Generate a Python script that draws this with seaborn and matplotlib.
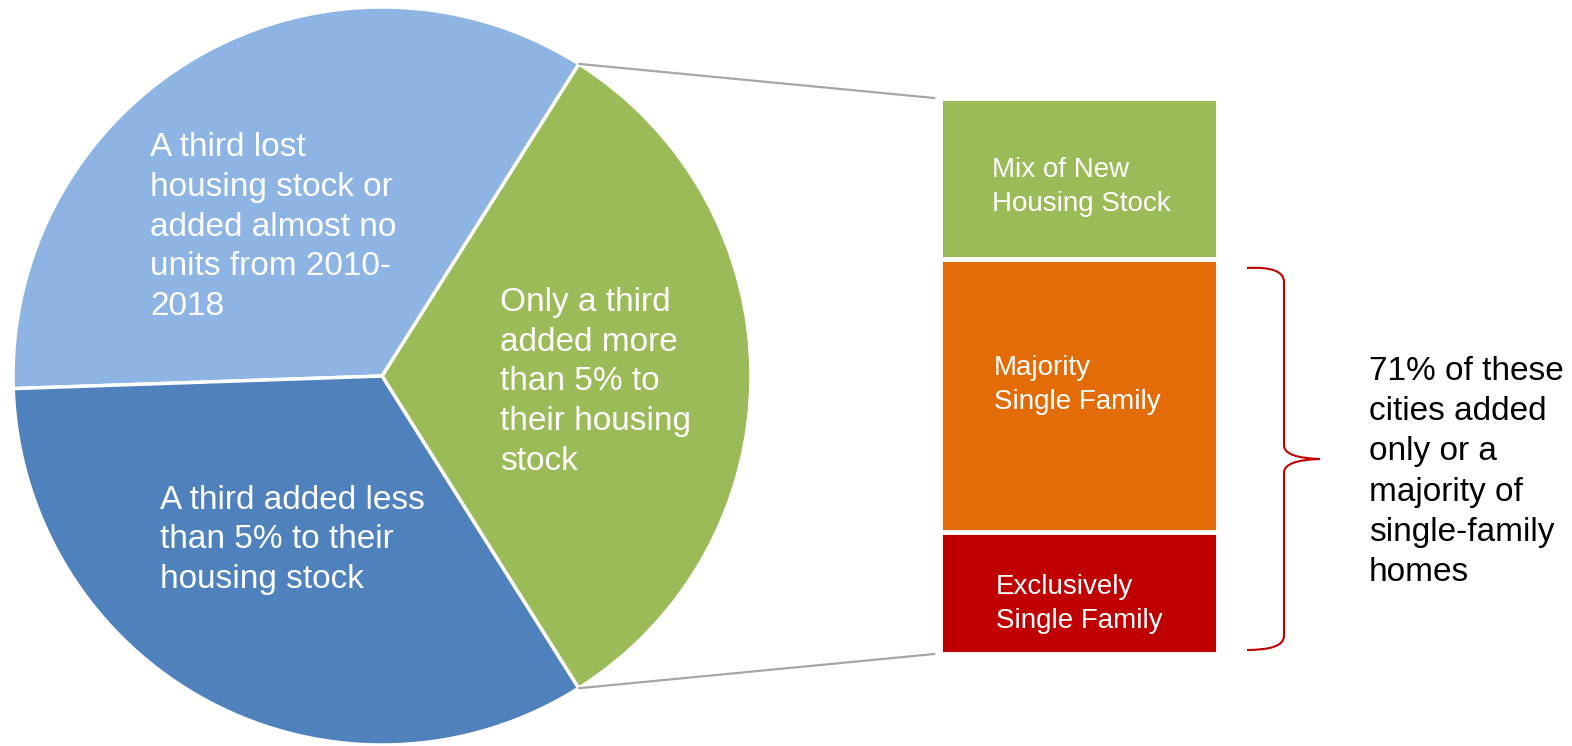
import matplotlib.pyplot as plt
import seaborn as sns
from matplotlib.path import Path
from matplotlib.patches import PathPatch, ConnectionPatch
import numpy as np

# pie: share of cities by change in housing stock 2010-2018 (counterclockwise from green)
pie_labels = ["Only a third\nadded more\nthan 5% to\ntheir housing\nstock",
              "A third lost\nhousing stock or\nadded almost no\nunits from 2010-\n2018",
              "A third added less\nthan 5% to their\nhousing stock"]
pie_shares = [32.1, 34.5, 33.4]
pie_colors = ["#9BBB59", "#8EB4E3", "#4F81BD"]

# bar: breakdown of the green slice, top to bottom
bar_labels = ["Mix of New\nHousing Stock", "Majority\nSingle Family", "Exclusively\nSingle Family"]
bar_shares = [29, 49, 22]
bar_colors = ["#9BBB59", "#E36C09", "#C00000"]

note = "71% of these\ncities added\nonly or a\nmajority of\nsingle-family\nhomes"

sns.set_theme(style="white")
plt.rcParams['font.family'] = ['Liberation Sans', 'DejaVu Sans']

W, H = 1572, 746
fig = plt.figure(figsize=(15.72, 7.46), dpi=100)

def box(x0, y0, x1, y1):
    # pixel box (top based) -> figure fraction
    return [x0 / W, 1 - y1 / H, (x1 - x0) / W, (y1 - y0) / H]

# pie
ax_pie = fig.add_axes(box(13, 7, 751, 745))
start = -57.8
wedges, _ = ax_pie.pie(pie_shares, colors=pie_colors, startangle=start,
                       counterclock=True,
                       wedgeprops=dict(edgecolor="white", linewidth=2.5))
ax_pie.set_xlim(-1, 1)
ax_pie.set_ylim(-1, 1)
ax_pie.axis("off")

# stacked bar, drawn as overlapping cumulative bars
ax_bar = fig.add_axes(box(940, 98, 1218, 654))
cum = np.cumsum(bar_shares[::-1])[::-1]   # 100, 71, 22
for val, col in zip(cum, bar_colors):
    sns.barplot(x=["all"], y=[val], color=col, saturation=1, width=1,
                edgecolor="white", linewidth=3.5, ax=ax_bar)
ax_bar.set_xlim(-0.5, 0.5)
ax_bar.set_ylim(0, cum[0])
ax_bar.axis("off")

# connector lines from green wedge edges to bar corners
g = wedges[0]
for ang, yb in [(g.theta2, cum[0]), (g.theta1, 0)]:
    a = np.deg2rad(ang)
    con = ConnectionPatch(xyA=(np.cos(a), np.sin(a)), coordsA=ax_pie.transData,
                          xyB=(-0.52, yb), coordsB=ax_bar.transData,
                          color="#A6A6A6", linewidth=1.6)
    fig.add_artist(con)

# overlay in pixel coordinates for text and brace
ov = fig.add_axes([0, 0, 1, 1], facecolor="none")
ov.set_xlim(0, W)
ov.set_ylim(H, 0)
ov.axis("off")

ls = 1.37
pie_text_pos = [(500, 382), (150, 227), (160, 540)]
for lab, (x, y) in zip(pie_labels, pie_text_pos):
    ov.text(x, y, lab, color="white", fontsize=24, ha="left", va="center",
            linespacing=ls)

bar_text_pos = [(992, 187), (994, 385), (996, 604)]
for lab, (x, y) in zip(bar_labels, bar_text_pos):
    ov.text(x, y, lab, color="white", fontsize=20, ha="left", va="center",
            linespacing=ls)

ov.text(1369, 472, note, color="black", fontsize=24, ha="left", va="center",
        linespacing=1.39)

verts = [(1247, 268), (1284, 266), (1284, 282), (1284, 446),
         (1285, 458), (1320, 459), (1285, 460), (1284, 472),
         (1284, 636), (1284, 650), (1247, 650)]
codes = [Path.MOVETO, Path.CURVE3, Path.CURVE3, Path.LINETO,
         Path.CURVE3, Path.CURVE3, Path.CURVE3, Path.CURVE3,
         Path.LINETO, Path.CURVE3, Path.CURVE3]
ov.add_patch(PathPatch(Path(verts, codes), facecolor="none",
                       edgecolor="#C00000", linewidth=1.5))

fig.savefig("out.png", dpi=100)
